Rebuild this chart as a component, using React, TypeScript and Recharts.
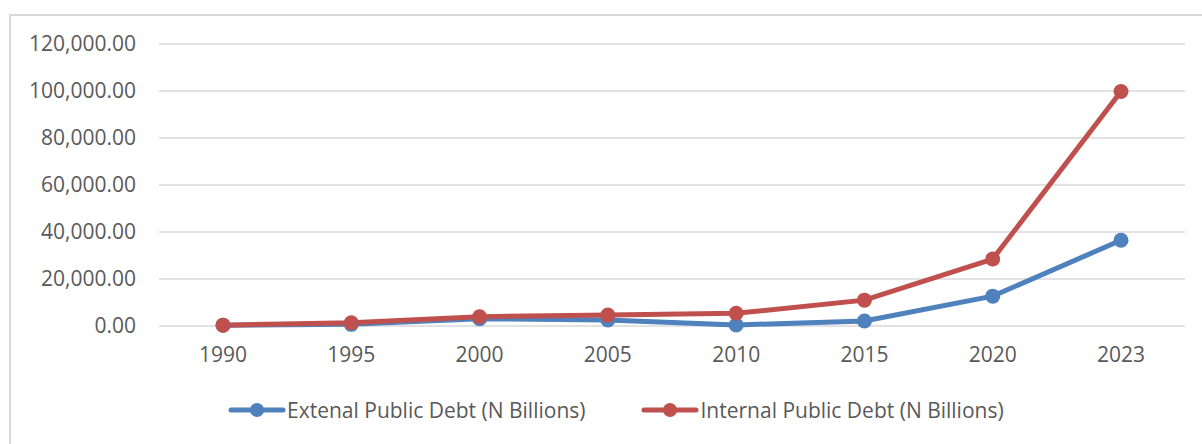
import React from 'react';
import { LineChart, Line, XAxis, YAxis, CartesianGrid } from 'recharts';

const years = ['1990', '1995', '2000', '2005', '2010', '2015', '2020', '2023'];
const externalDebt = [300, 700, 3100, 2550, 450, 2150, 12700, 36500];
const internalDebt = [350, 1400, 3950, 4650, 5400, 11000, 28500, 99800];
const yTicks = [0, 20000, 40000, 60000, 80000, 100000, 120000];

const seriesNames = {
  external: 'Extenal Public Debt (N Billions)',
  internal: 'Internal Public Debt (N Billions)',
};
const colors = { external: '#4f81bd', internal: '#c0504d' };

const data = years.map((year, i) => ({
  year,
  external: externalDebt[i],
  internal: internalDebt[i],
}));

const font = '"Open Sans", sans-serif';
const fmt = (v: number) =>
  v.toLocaleString('en-US', { minimumFractionDigits: 2, maximumFractionDigits: 2 });

// legend drawn below the plot, like the Excel original
const ChartLegend = () => (
  <div
    style={{
      position: 'absolute',
      left: 0,
      top: 396,
      display: 'flex',
      fontFamily: font,
      fontSize: 21,
      color: '#595959',
      lineHeight: '28px',
    }}
  >
    {(['external', 'internal'] as const).map((key, i) => (
      <div
        key={key}
        style={{ display: 'flex', alignItems: 'center', marginLeft: i === 0 ? 228 : 56 }}
      >
        <svg width={58} height={16}>
          <line x1={3} y1={8} x2={55} y2={8} stroke={colors[key]} strokeWidth={5} strokeLinecap="round" />
          <circle cx={29} cy={8} r={7} fill={colors[key]} />
        </svg>
        <span style={{ marginLeft: 1 }}>{seriesNames[key]}</span>
      </div>
    ))}
  </div>
);

export default function App() {
  return (
    <div style={{ position: 'absolute', left: 0, top: 0, width: 1202, height: 444, background: '#fff', overflow: 'hidden' }}>
      <div
        style={{
          position: 'absolute',
          left: 9,
          top: 14,
          width: 1300,
          height: 500,
          border: '2px solid #d9d9d9',
        }}
      />
      <LineChart
        width={1202}
        height={444}
        data={data}
        margin={{ top: 44, right: 17, bottom: 0, left: 0 }}
        style={{ position: 'absolute', left: 0, top: 0 }}
      >
        <CartesianGrid vertical={false} stroke="#d9d9d9" strokeWidth={1.5} />
        <XAxis
          dataKey="year"
          axisLine={false}
          tickLine={false}
          tickSize={0}
          tickMargin={21}
          height={118}
          padding={{ left: 64, right: 64 }}
          tick={{ fill: '#595959', fontSize: 21, fontFamily: font }}
        />
        <YAxis
          domain={[0, 120000]}
          ticks={yTicks}
          width={159}
          axisLine={false}
          tickLine={false}
          tickSize={0}
          tickMargin={23}
          tickFormatter={fmt}
          tick={{ fill: '#595959', fontSize: 21, fontFamily: font }}
        />
        <Line
          dataKey="external"
          name={seriesNames.external}
          stroke={colors.external}
          strokeWidth={5}
          dot={{ r: 7.5, fill: colors.external, stroke: colors.external, strokeWidth: 0 }}
          isAnimationActive={false}
        />
        <Line
          dataKey="internal"
          name={seriesNames.internal}
          stroke={colors.internal}
          strokeWidth={5}
          dot={{ r: 7.5, fill: colors.internal, stroke: colors.internal, strokeWidth: 0 }}
          isAnimationActive={false}
        />
      </LineChart>
      <ChartLegend />
    </div>
  );
}
